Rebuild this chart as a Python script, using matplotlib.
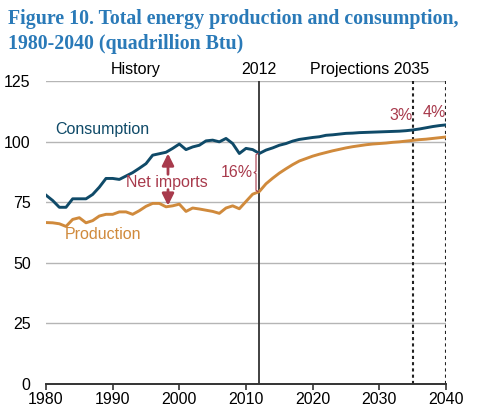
import matplotlib.pyplot as plt
import numpy as np

# Дані: роки та значення (квадрильйони Btu)
years = np.arange(1980, 2041)
consumption = [77.9, 75.7, 72.9, 72.9, 76.4, 76.4, 76.4, 78.2, 81.2, 84.8,
               84.8, 84.4, 85.8, 87.2, 89.0, 90.9, 94.4, 95.0, 95.6, 97.2,
               99.0, 96.7, 97.8, 98.5, 100.3, 100.6, 99.9, 101.3, 99.2, 95.1,
               97.2, 96.7, 95.1, 96.5, 97.4, 98.5, 99.2, 100.2, 100.9, 101.3,
               101.7, 102.0, 102.6, 102.8, 103.1, 103.4, 103.5, 103.7, 103.8, 103.9,
               104.0, 104.1, 104.2, 104.3, 104.5, 104.8, 105.2, 105.7, 106.2, 106.6,
               106.9]
production = [66.6, 66.5, 66.1, 65.0, 67.9, 68.6, 66.5, 67.4, 69.3, 70.0,
              70.0, 71.0, 71.0, 70.0, 71.5, 73.3, 74.5, 74.5, 73.1, 73.5,
              74.2, 71.2, 72.6, 72.2, 71.7, 71.2, 70.4, 72.6, 73.5, 72.3,
              75.3, 78.3, 79.4, 82.6, 84.9, 87.0, 88.8, 90.5, 92.0, 93.0,
              94.0, 94.8, 95.5, 96.2, 96.8, 97.4, 97.9, 98.3, 98.7, 99.0,
              99.2, 99.4, 99.7, 99.9, 100.2, 100.5, 100.8, 101.0, 101.3, 101.6,
              101.9]
x_ticks = [1980, 1990, 2000, 2010, 2020, 2030, 2040]
y_ticks = [0, 25, 50, 75, 100, 125]
base_year = 2012
proj_marks = [2035, 2040]
share_labels = ['3%', '4%']

blue = '#0f4a68'
orange = '#d08a3c'
red = '#a83a4c'

plt.rcParams['font.family'] = ['Liberation Sans', 'DejaVu Sans']

fig = plt.figure(figsize=(4.83, 4.20), dpi=100)
ax = fig.add_axes([46 / 483, 1 - 384 / 420, 400 / 483, 303 / 420])

# Сітка
for v in y_ticks[1:]:
    ax.axhline(v, color='#b5b5b5', linewidth=1.0, zorder=1)

# Вертикальні лінії
ax.axvline(base_year, color='#333333', linewidth=1.3, zorder=2)
for yr in proj_marks:
    ax.axvline(yr, color='#222222', linewidth=1.5, linestyle=(0, (1.5, 1.5)), zorder=2)

# Лінії даних
ax.plot(years, consumption, color=blue, linewidth=2.1, zorder=3)
ax.plot(years, production, color=orange, linewidth=2.1, zorder=3)

ax.set_xlim(1980, 2040)
ax.set_ylim(0, 125)
ax.set_xticks(x_ticks)
ax.set_yticks(y_ticks)
ax.tick_params(axis='y', length=0, labelsize=11.5, pad=11)
ax.tick_params(axis='x', length=4, width=1.2, color='#333333', labelsize=11.5, pad=2)
for s in ['top', 'right', 'left']:
    ax.spines[s].set_visible(False)
ax.spines['bottom'].set_color('#333333')
ax.spines['bottom'].set_linewidth(1.4)

# Підписи над графіком
ax.text(1993.5, 126.5, 'History', ha='center', va='bottom', fontsize=11.5)
ax.text(base_year, 126.5, '2012', ha='center', va='bottom', fontsize=11.5)
ax.text(2028.5, 126.5, 'Projections 2035', ha='center', va='bottom', fontsize=11.5)

# Назви серій
ax.text(1988.5, 105, 'Consumption', color=blue, ha='center', va='center', fontsize=11.5)
ax.text(1988.5, 61.5, 'Production', color=orange, ha='center', va='center', fontsize=11.5)

# Чистий імпорт
i98 = list(years).index(1998)
ax.text(1998.2, 83, 'Net imports', color=red, ha='center', va='center', fontsize=11.5)
arrow_style = dict(arrowstyle='-|>,head_length=0.7,head_width=0.35', color=red,
                   lw=2.0, mutation_scale=10, shrinkA=0, shrinkB=0)
ax.annotate('', xy=(1998.3, consumption[i98] - 0.5), xytext=(1998.3, 86.5),
            arrowprops=arrow_style)
ax.annotate('', xy=(1998.3, production[i98] + 0.5), xytext=(1998.3, 80.2),
            arrowprops=arrow_style)

# Дужка 16%
i12 = list(years).index(base_year)
top, bot = consumption[i12], production[i12]
mid = (top + bot) / 2
bx = base_year - 0.2
ax.plot([bx, bx - 0.3, bx - 0.3, bx - 0.6, bx - 0.3, bx - 0.3, bx],
        [top, top - 0.5, mid + 0.5, mid, mid - 0.5, bot + 0.5, bot],
        color=red, linewidth=0.8, zorder=4)
ax.text(bx - 0.8, mid, '16%', color=red, ha='right', va='center', fontsize=11.5)

# Частки 3% і 4%
ax.text(2033.2, 107.5, share_labels[0], color=red, ha='center', va='bottom', fontsize=11.5)
ax.text(2038.2, 109, share_labels[1], color=red, ha='center', va='bottom', fontsize=11.5)

# Заголовок
fig.text(0.017, 0.978, 'Figure 10. Total energy production and consumption,\n1980-2040 (quadrillion Btu)',
         color='#2a7ab8', fontsize=14.3, fontweight='bold', family='Liberation Serif',
         ha='left', va='top', linespacing=1.3)

fig.savefig('out.png', dpi=100)
